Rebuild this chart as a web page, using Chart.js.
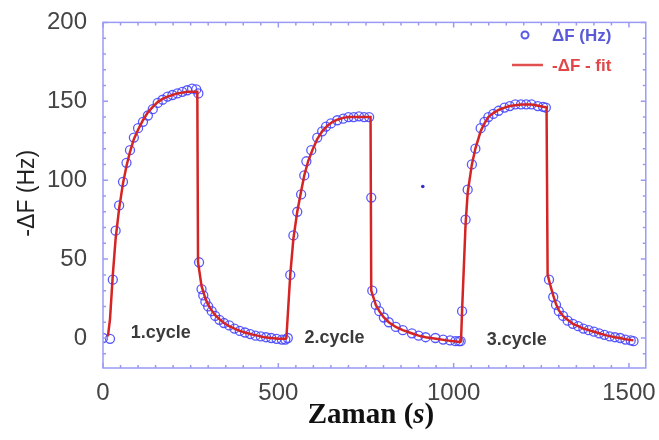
<!DOCTYPE html>
<html>
<head>
<meta charset="utf-8">
<script src="https://cdn.jsdelivr.net/npm/chart.js@4.4.1/dist/chart.umd.min.js"></script>
<style>
  body { margin: 0; background: #fff; }
  canvas { display: block; }
</style>
</head>
<body>
<canvas id="qcmChart" width="659" height="440"></canvas>
<script>
const measTime = [
  0, 20, 28, 36, 46, 57, 67, 77, 88, 100, 114, 128, 142, 156, 170, 184, 198, 212, 226, 240, 254, 266, 272,
  274, 281, 286, 292, 300, 310, 320, 332, 345, 360, 375, 390, 405, 420, 435, 450, 465, 480, 495, 510, 520,
  527, 534, 543, 554, 565, 574, 580, 594, 611, 625, 636, 650, 668, 685, 700, 715, 730, 745, 759,
  765, 768, 778, 788, 801, 815, 835, 855, 881, 900, 920, 948, 970, 990, 1005, 1015,
  1020, 1024, 1034, 1040, 1052, 1062, 1077, 1088, 1099, 1113, 1128, 1145, 1160, 1176, 1192, 1207, 1222, 1240, 1255, 1263,
  1272, 1284, 1292, 1300, 1312, 1325, 1340, 1355, 1370, 1385, 1400, 1415, 1430, 1445, 1460, 1475, 1490, 1505, 1513
];
const measValue = [
  0, -0.5, 37, 68, 84, 99, 111, 119, 127, 133, 137, 141, 145, 149, 151, 153, 154, 155, 156, 157, 158, 157.5, 155,
  48, 31, 27, 23, 20, 17, 14, 11.5, 9.5, 8, 6, 4.5, 3.5, 2.5, 1.5, 1, 0.5, 0, -0.5, -1, -1,
  0, 40, 65, 80, 91, 103, 112, 119, 127, 131, 134, 136, 138, 139, 140, 140, 140.5, 140, 140,
  89, 30, 21, 17, 13, 10, 7, 5, 3, 1.5, 0.5, 0, -1, -1.5, -2, -2,
  -2, 17, 75, 94, 110, 120, 133, 137, 140, 142, 144, 146, 147, 148, 148, 148, 148, 147, 146.5, 146,
  37, 26, 21, 17, 14, 11, 9, 7.5, 6, 5, 4, 3, 2, 1, 0.5, 0, -1, -1.5, -2
];

// fit curve (red line)
const fitTime = [
  14, 20, 28, 36, 46, 57, 67, 77, 88, 100, 114, 128, 142, 156, 170, 184, 198, 212, 226, 240, 254, 269,
  271, 281, 292, 300, 310, 320, 332, 345, 360, 375, 390, 405, 420, 440, 460, 480, 500, 521,
  523, 534, 543, 554, 565, 574, 585, 597, 611, 625, 640, 655, 670, 685, 700, 730, 763,
  765, 778, 788, 801, 815, 835, 855, 880, 900, 920, 950, 980, 1000, 1019,
  1021, 1024, 1034, 1040, 1052, 1062, 1077, 1088, 1099, 1113, 1128, 1145, 1160, 1176, 1192, 1222, 1245, 1265,
  1268, 1275, 1284, 1292, 1300, 1312, 1325, 1340, 1355, 1370, 1385, 1400, 1415, 1430, 1445, 1460, 1475, 1490, 1513
];
const fitValue = [
  1, 12, 40, 63, 82, 98, 109, 118, 126, 132, 138, 143, 146.5, 149.5, 151.5, 153, 154, 155, 155.5, 156, 156, 156,
  48, 33, 25, 21, 17.5, 14.5, 12, 9.5, 7.5, 6, 4.5, 3.5, 2.5, 1.5, 0.5, 0, -0.5, -0.5,
  0, 40, 63, 80, 93, 103, 112, 119, 126, 131, 134.5, 137, 138.5, 139.5, 140, 140, 140,
  30, 21, 17, 13, 10, 7, 5, 3, 1.5, 0.5, -0.5, -1.5, -2, -2.5,
  -2, 17, 72, 92, 110, 120, 131, 136, 140, 142.5, 144.5, 146, 147, 147.5, 148, 148, 147, 146,
  40, 34, 27, 21.5, 17.5, 14, 11.5, 9, 7.5, 6, 5, 4, 3, 2, 1.2, 0.5, 0, -0.8, -1.5
];

// lone dot between cycle 2 and 3
const strayTime = [912];
const strayValue = [96];

const xTicks = [0, 500, 1000, 1500];
const yTicks = [0, 50, 100, 150, 200];
const cycleLabels = ['1.cycle', '2.cycle', '3.cycle'];
const legendLabels = ['\u0394F (Hz)', '-\u0394F - fit'];

const boxColor = '#9a9af5';

function toPoints(xs, ys) {
  return xs.map((x, i) => ({ x: x, y: ys[i] }));
}

// box with inward ticks on all four sides
const boxPlugin = {
  id: 'boxTicks',
  afterDatasetsDraw(chart) {
    const ctx = chart.ctx;
    const a = chart.chartArea;
    const xs = chart.scales.x, ys = chart.scales.y;
    ctx.save();
    ctx.strokeStyle = boxColor;
    ctx.lineWidth = 1.5;
    ctx.strokeRect(a.left, a.top, a.right - a.left, a.bottom - a.top);
    ctx.beginPath();
    for (let v = 0; v <= 1540; v += 50) {
      const px = xs.getPixelForValue(v);
      const len = v % 500 === 0 ? 5 : 3;
      ctx.moveTo(px, a.bottom); ctx.lineTo(px, a.bottom - len);
      ctx.moveTo(px, a.top); ctx.lineTo(px, a.top + len);
    }
    for (let v = -10; v <= 200; v += 10) {
      const py = ys.getPixelForValue(v);
      const len = v % 50 === 0 ? 5 : 3;
      ctx.moveTo(a.left, py); ctx.lineTo(a.left + len, py);
      ctx.moveTo(a.right, py); ctx.lineTo(a.right - len, py);
    }
    ctx.stroke();
    ctx.restore();
  }
};

// titles, legend and cycle labels
const textPlugin = {
  id: 'texts',
  afterDraw(chart) {
    const ctx = chart.ctx;
    const a = chart.chartArea;
    const xs = chart.scales.x, ys = chart.scales.y;
    ctx.save();

    // y title
    ctx.translate(28, (a.top + a.bottom) / 2 - 2);
    ctx.rotate(-Math.PI / 2);
    ctx.fillStyle = '#222';
    ctx.font = '23px Arial, "Liberation Sans"';
    ctx.textAlign = 'center';
    ctx.textBaseline = 'middle';
    ctx.fillText('-\u0394F (Hz)', 0, 0);
    ctx.setTransform(1, 0, 0, 1, 0, 0);

    // x title with italic s
    const bold = 'bold 29px "Liberation Serif", "Times New Roman", serif';
    const ital = 'italic bold 29px "Liberation Serif", "Times New Roman", serif';
    const parts = [['Zaman (', bold], ['s', ital], [')', bold]];
    let total = 0;
    parts.forEach(p => { ctx.font = p[1]; total += ctx.measureText(p[0]).width; });
    let tx = 371 - total / 2;
    ctx.fillStyle = '#111';
    ctx.textAlign = 'left';
    ctx.textBaseline = 'middle';
    parts.forEach(p => {
      ctx.font = p[1];
      ctx.fillText(p[0], tx, 416);
      tx += ctx.measureText(p[0]).width;
    });

    // legend
    ctx.lineWidth = 2;
    ctx.strokeStyle = '#5a5ae6';
    ctx.beginPath();
    ctx.arc(525, 35, 3.5, 0, Math.PI * 2);
    ctx.stroke();
    ctx.font = 'bold 17px Arial, "Liberation Sans"';
    ctx.fillStyle = '#5a5ad8';
    ctx.fillText(legendLabels[0], 552, 36);
    ctx.strokeStyle = '#e05050';
    ctx.lineWidth = 2.5;
    ctx.beginPath();
    ctx.moveTo(512, 65); ctx.lineTo(543, 65);
    ctx.stroke();
    ctx.fillStyle = '#e04848';
    ctx.fillText(legendLabels[1], 552, 66);

    // cycle labels
    ctx.font = 'bold 18px Arial, "Liberation Sans"';
    ctx.fillStyle = '#3a3a3a';
    ctx.textAlign = 'center';
    const spots = [[165, 3], [660, 0], [1180, -1]];
    cycleLabels.forEach((t, i) => {
      ctx.fillText(t, xs.getPixelForValue(spots[i][0]), ys.getPixelForValue(spots[i][1]));
    });
    ctx.restore();
  }
};

new Chart(document.getElementById('qcmChart'), {
  type: 'scatter',
  data: {
    datasets: [
      {
        label: '-\u0394F - fit',
        data: toPoints(fitTime, fitValue),
        showLine: true,
        borderColor: '#d42424',
        borderWidth: 2.5,
        pointRadius: 0,
        tension: 0
      },
      {
        label: '\u0394F (Hz)',
        data: toPoints(measTime, measValue),
        showLine: false,
        pointRadius: 4.5,
        pointBorderWidth: 1.3,
        pointBorderColor: 'rgba(70,70,255,0.9)',
        pointBackgroundColor: 'rgba(0,0,0,0)'
      },
      {
        label: 'dot',
        data: toPoints(strayTime, strayValue),
        pointRadius: 1.8,
        pointBorderWidth: 0,
        pointBackgroundColor: '#3030d0'
      }
    ]
  },
  options: {
    responsive: false,
    animation: false,
    devicePixelRatio: 1,
    layout: { padding: { top: 15, right: 11, left: 0, bottom: 0 } },
    plugins: { legend: { display: false }, tooltip: { enabled: false } },
    scales: {
      x: {
        type: 'linear',
        min: 0,
        max: 1548,
        grid: { display: false },
        border: { display: false },
        afterBuildTicks: s => { s.ticks = xTicks.map(v => ({ value: v })); },
        afterFit: s => { s.height = 72; },
        ticks: {
          padding: 3,
          color: '#444',
          font: { family: 'Arial, "Liberation Sans"', size: 24 },
          callback: v => String(v)
        }
      },
      y: {
        type: 'linear',
        min: -19,
        max: 200,
        grid: { display: false },
        border: { display: false },
        afterBuildTicks: s => { s.ticks = yTicks.map(v => ({ value: v })); },
        afterFit: s => { s.width = 103; },
        ticks: {
          padding: 8,
          color: '#444',
          font: { family: 'Arial, "Liberation Sans"', size: 24 },
          callback: v => String(v)
        }
      }
    }
  },
  plugins: [boxPlugin, textPlugin]
});
</script>
</body>
</html>
